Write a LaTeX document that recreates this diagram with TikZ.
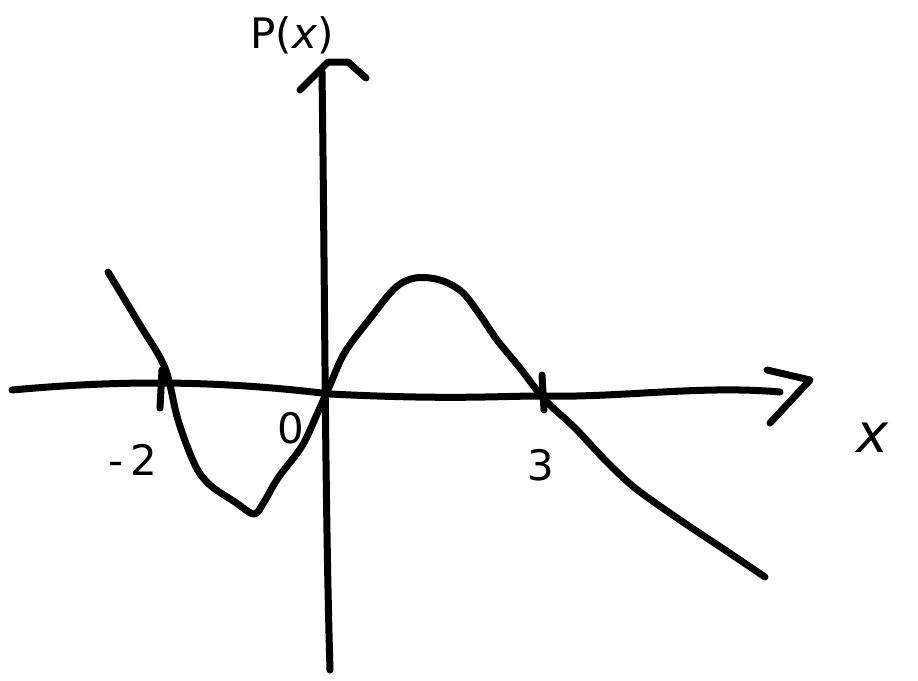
\documentclass[tikz,border=0pt]{standalone}
\usepackage{fontspec}
\setmainfont{DejaVu Sans}
\begin{document}
\begin{tikzpicture}[x=1pt,y=-1pt,
  pen/.style={line width=7pt,line cap=round,line join=round},
  lbl/.style={font=\fontsize{42}{42}\selectfont,inner sep=0pt}]
\useasboundingbox (0,0) rectangle (918,680);
% x-axis
\coordinate (xs) at (12,390);
\coordinate (xe) at (780,392);
\draw[pen] (xs) .. controls (100,382) and (200,378) .. (330,394)
  .. controls (450,400) and (500,396) .. (540,396)
  .. controls (620,398) and (700,385) .. (xe);
\coordinate (xa1) at (767,370);
\coordinate (xat) at (810,380);
\coordinate (xa2) at (770,423);
\draw[pen] (xa1) -- (xat) -- (xa2);
% y-axis
\coordinate (ys) at (330,670);
\coordinate (ye) at (322,72);
\draw[pen] (ys) .. controls (325,500) and (325,300) .. (ye);
\coordinate (ya1) at (300,90);
\coordinate (yat) at (328,62);
\coordinate (ya2) at (366,78);
\draw[pen] (ya1) -- (yat) -- (348,62) -- (ya2);
% ticks
\coordinate (t1) at (162,370);
\coordinate (t1b) at (160,408);
\draw[pen] (t1) -- (t1b);
\coordinate (t2) at (542,375);
\draw[pen] (t2) -- (544,410);
% curve
\draw[pen] plot[smooth,tension=0.55] coordinates {
  (108,272) (140,325) (165,368) (178,420) (195,465) (210,485) (235,502)
  (254,514) (264,502) (278,478) (302,446) (318,412) (330,385) (345,352)
  (372,316) (395,288) (415,278) (440,280) (462,292) (480,315) (497,340)
  (520,368) (545,400) (575,428) (605,460) (635,488) (680,520) (725,550) (765,577)};
% labels
\node[lbl] (px) at (292,35) {P(\textit{x})};
\node[lbl,font=\fontsize{54}{54}\selectfont\itshape] (xl) at (872,438) {x};
\node[lbl] (zero) at (291,428) {0};
\node[lbl] (m2) at (133,460) {-\,2};
\node[lbl] (three) at (541,465) {3};
\end{tikzpicture}
\end{document}
